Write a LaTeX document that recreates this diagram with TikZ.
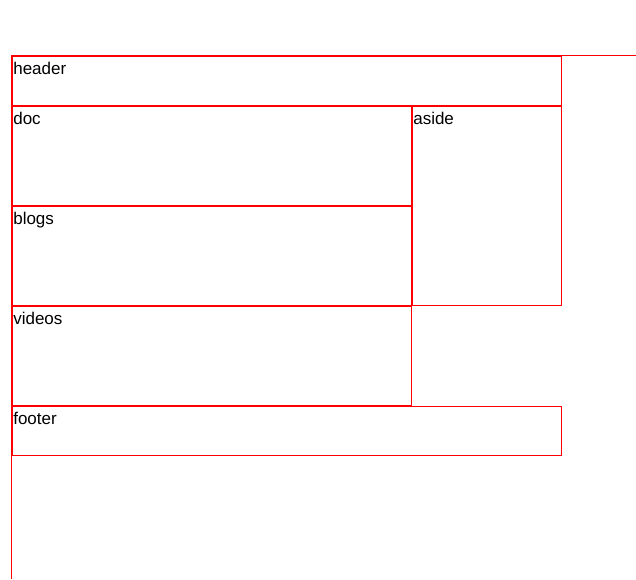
\documentclass[tikz,border=0pt]{standalone}
\usepackage{fontspec}
\setmainfont{Liberation Sans}
\usetikzlibrary{positioning}
\tikzset{
  area/.style={draw=red,line width=0.75pt,inner sep=0pt,outer sep=0pt,anchor=north west},
  tag/.style={anchor=base west,inner sep=0pt,font=\fontsize{12.75pt}{15pt}\selectfont,xshift=0.4pt,yshift=-13.6pt},
}
\begin{document}
\begin{tikzpicture}[x=0.75pt,y=-0.75pt]
\useasboundingbox (0,0) rectangle (636,579);
% outer page frame
\coordinate (page) at (11.5,55.5);
\coordinate (pageright) at (636,55.5);
\coordinate (pagebottom) at (11.5,579);
\draw[red,line width=0.75pt] (pageright)--(page)--(pagebottom);
\node[area,minimum width=411.75pt,minimum height=36.75pt,label={[tag]north west:header}] (header) at (12.5,56.5) {};
\node[area,minimum width=299.25pt,minimum height=74.25pt,label={[tag]north west:doc},below=0.75pt of header.south west,anchor=north west] (doc) {};
\node[area,minimum width=111.75pt,minimum height=149.25pt,label={[tag]north west:aside},right=0.75pt of doc.north east,anchor=north west] (aside) {};
\node[area,minimum width=299.25pt,minimum height=74.25pt,label={[tag]north west:blogs},below=0.75pt of doc.south west,anchor=north west] (blogs) {};
\node[area,minimum width=299.25pt,minimum height=74.25pt,label={[tag]north west:videos},below=0.75pt of blogs.south west,anchor=north west] (videos) {};
\node[area,minimum width=411.75pt,minimum height=36.75pt,label={[tag]north west:footer},below=0.75pt of videos.south west,anchor=north west] (footer) {};
\end{tikzpicture}
\end{document}
